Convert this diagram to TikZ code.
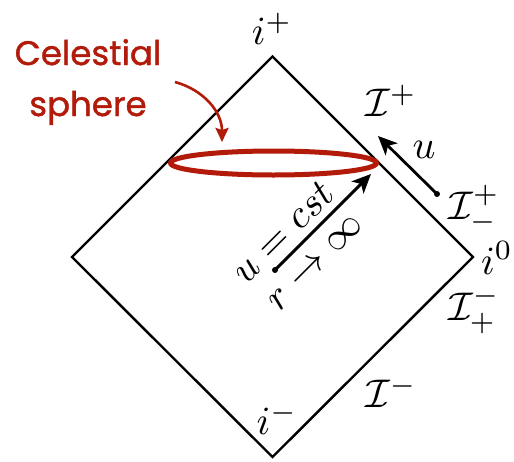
\documentclass[tikz,border=0pt]{standalone}
\usepackage{fontspec}
\usetikzlibrary{arrows.meta}
\newfontfamily\comicfont[FakeBold=1.2]{Poppins}
\definecolor{sphred}{RGB}{178,26,10}
\begin{document}
\begin{tikzpicture}[x=1pt,y=-1pt,
  lbl/.style={scale=4, inner sep=0pt},
  frame/.style={line width=2.4pt, line join=miter},
  bigarrow/.style={line width=3pt, -{Stealth[length=19pt,width=17pt,inset=5pt]}},
  redarrow/.style={sphred, line width=2.6pt, -{Stealth[length=14pt,width=13pt,inset=2pt]}},
  dotstyle/.style={circle, fill=black, inner sep=0pt, minimum size=6pt}
]
\useasboundingbox (0,0) rectangle (514,461);
% Penrose diamond
\coordinate (top) at (272.5,56.5);
\coordinate (right) at (473,257);
\coordinate (bottom) at (272.5,457);
\coordinate (left) at (72,257);
\draw[frame] (top) -- (right) -- (bottom) -- (left) -- cycle;
% celestial sphere
\draw[sphred, line width=5pt] (273.5,163) ellipse [x radius=103pt, y radius=12pt];
% labels
\node[lbl] (ip) at (272,29) {$i^+$};
\node[lbl] (scrip) at (391,101) {$\mathcal{I}^+$};
\node[lbl] (scripm) at (474,209) {$\mathcal{I}^+_-$};
\node[lbl] (izero) at (497,258) {$i^0$};
\node[lbl] (scrimp) at (474,310) {$\mathcal{I}^-_+$};
\node[lbl] (scrim) at (391,392) {$\mathcal{I}^-$};
\node[lbl] (im) at (277,419) {$i^-$};
% u arrow along scri+
\node[dotstyle] (ud0) at (437,194) {};
\coordinate (ud1) at (378,136);
\draw[bigarrow, line width=2.8pt] (ud0.center) -- (ud1);
\node[lbl] (ulbl) at (424,150) {$u$};
% main arrow
\node[dotstyle] (a0) at (275,270) {};
\coordinate (a1) at (371,174);
\draw[bigarrow] (a0.center) -- (a1);
\node[lbl, rotate=45] (ucst) at (283,232) {$u=cst$};
\node[lbl, rotate=45] (rinf) at (316,263) {$r\to\infty$};
% celestial sphere label
\node[sphred, align=center, inner sep=0pt, font=\comicfont\fontsize{34}{51}\selectfont] (cel) at (88,82) {Celestial\\sphere};
\coordinate (cs) at (175,82);
\coordinate (ce) at (222,142);
\draw[redarrow] (cs) .. controls (204,90) and (222,112) .. (ce);
\end{tikzpicture}
\end{document}
